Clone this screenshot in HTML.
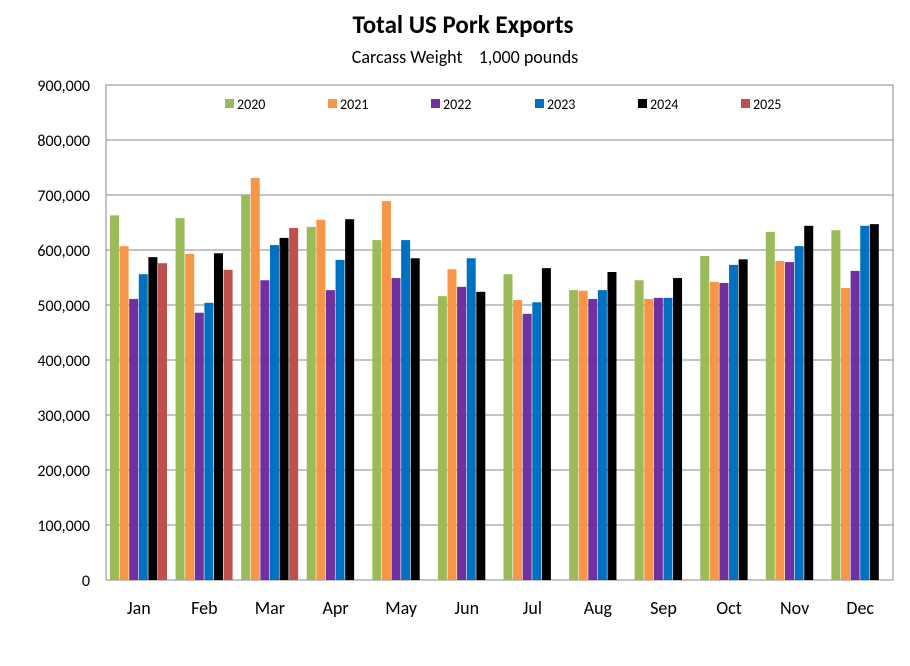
<!DOCTYPE html>
<html><head><meta charset="utf-8"><style>
body{margin:0;background:#fff;font-family:"Liberation Sans",Arial,sans-serif}
svg text{font-family:"Carlito","Liberation Sans",Arial,sans-serif}
</style></head><body>
<svg id="chart" width="910" height="661" xmlns="http://www.w3.org/2000/svg">
<text x="463" y="33" text-anchor="middle" font-size="25" font-weight="bold">Total US Pork Exports</text>
<text x="465" y="63" text-anchor="middle" font-size="18" xml:space="preserve">Carcass Weight    1,000 pounds</text>
<rect x="106" y="85" width="787" height="495" fill="#fff" stroke="#888" stroke-width="1"/>
<g id="grid"></g><g id="bars"></g><g id="axes"></g><g id="legend"></g>
</svg>
<script>
const months=["Jan","Feb","Mar","Apr","May","Jun","Jul","Aug","Sep","Oct","Nov","Dec"];
const years=["2020","2021","2022","2023","2024","2025"];
const colors=["#9bbb59","#f79646","#7030a0","#0070c0","#000000","#c0504d"];
const s2020=[663,658,700,642,618,516,556,527,545,589,633,636];
const s2021=[607,593,731,655,689,565,509,526,511,542,580,531];
const s2022=[511,486,545,527,549,533,484,511,513,540,578,562];
const s2023=[556,504,609,582,618,585,505,527,513,573,607,644];
const s2024=[587,594,622,656,585,524,567,560,549,583,644,647];
const s2025=[576,564,640,null,null,null,null,null,null,null,null,null];
const yTicks=[0,100,200,300,400,500,600,700,800,900];
const series=[s2020,s2021,s2022,s2023,s2024,s2025];
const NS="http://www.w3.org/2000/svg";
const X0=106,X1=893,Y0=580,Y1=85,YMAX=900;
const y=v=>Y0-(v/YMAX)*(Y0-Y1);
const cw=(X1-X0)/months.length;
const bw=9.6;
function mk(t,a,p){const e=document.createElementNS(NS,t);for(const k in a)e.setAttribute(k,a[k]);p.appendChild(e);return e;}
const grid=document.getElementById('grid'),axes=document.getElementById('axes'),bars=document.getElementById('bars'),leg=document.getElementById('legend');
yTicks.forEach(t=>{
  const l=mk('line',{x1:X0,x2:X1,y1:y(t),y2:y(t),stroke:'#888','stroke-width':1},grid);
  
  
  const tx=mk('text',{x:X0-16,y:y(t)+6,'text-anchor':'end','font-size':16},axes);
  tx.textContent=t===0?'0':t+',000';
  
  
});
months.forEach((m,i)=>{
  const cx=X0+cw*(i+0.5);
  const tx=mk('text',{x:cx,y:614,'text-anchor':'middle','font-size':18},axes);
  tx.textContent=m;
  
  
  series.forEach((s,j)=>{
    const v=s[i]; if(v==null)return;
    const bx=cx-3*bw+j*bw;
    const r=mk('rect',{x:bx,y:y(v),width:bw-0.6,height:Y0-y(v),fill:colors[j]},bars);
    
    
  });
});
const lx=[225,328,431,535,638,741];
years.forEach((yr,j)=>{
  const r=mk('rect',{x:lx[j],y:99,width:9,height:9,fill:colors[j]},leg);
  
  
  const t=mk('text',{x:lx[j]+12,y:109,'font-size':14},leg);
  t.textContent=yr;
  
  
});
</script>
</body></html>
